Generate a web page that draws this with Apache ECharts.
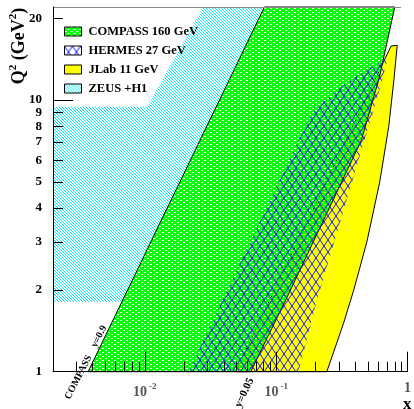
<!DOCTYPE html>
<html>
<head>
<meta charset="utf-8">
<script src="https://cdn.jsdelivr.net/npm/echarts@6/dist/echarts.min.js"></script>
<style>
html, body { margin: 0; padding: 0; background: #fff; }
#chart { width: 414px; height: 409px; }
</style>
</head>
<body>
<div id="chart"></div>
<script>
// axis ranges and ticks
var xRange = [0.002, 1];
var yRange = [1, 22];
var xLabels = [0.01, 0.1, 1];
var xMinorTicks = [0.003, 0.004, 0.005, 0.006, 0.007, 0.008, 0.009,
  0.02, 0.03, 0.04, 0.05, 0.06, 0.07, 0.08, 0.09,
  0.2, 0.3, 0.4, 0.5, 0.6, 0.7, 0.8, 0.9];
var yLabels = [1, 2, 3, 4, 5, 6, 7, 8, 9, 10, 20];
var yMinorTicks = [2, 3, 4, 5, 6, 7, 8, 9, 20];
var yMajorTicks = [1, 10];

// kinematic regions, [x, Q2] vertices
var zeusRegion = [[0.002, 1.81], [0.002, 9.45], [0.0104, 9.45], [0.0279, 22],
  [0.0815, 22], [0.0067, 1.81]];
var compassRegion = [[0.0037, 1], [0.0815, 22], [0.80, 22], [0.61, 12.1],
  [0.445, 7.1], [0.121, 1.88], [0.064, 1]];
var jlabRegion = [[0.049, 1], [0.75, 15.8], [0.835, 15.9], [0.79, 12], [0.72, 8],
  [0.615, 5], [0.49, 3], [0.39, 2], [0.325, 1.5], [0.243, 1]];
var hermesRegion = [[0.0215, 1], [0.187, 9.0], [0.27, 10.6], [0.36, 11.8],
  [0.5, 13.0], [0.66, 14.0], [0.71, 14.3], [0.60, 10.5], [0.469, 7.1],
  [0.33, 4], [0.204, 1.83], [0.148, 1]];

var FONT = 'Liberation Serif';

function makePattern(w, h, draw) {
  var c = document.createElement('canvas');
  c.width = w; c.height = h;
  draw(c.getContext('2d'), w, h);
  return { image: c, repeat: 'repeat' };
}

var greenFill = makePattern(6, 4, function (ctx) {
  ctx.fillStyle = '#00ff00';
  ctx.fillRect(0, 0, 6, 4);
  ctx.clearRect(0, 0, 2, 1);
  ctx.clearRect(3, 2, 2, 1);
});
var cyanFill = makePattern(3, 3, function (ctx) {
  ctx.fillStyle = '#00e8f0';
  for (var i = 0; i < 3; i++) {
    ctx.fillRect(i, i, 1, 1);
  }
});
var blueFill = makePattern(8, 12, function (ctx) {
  ctx.strokeStyle = '#1414e6';
  ctx.lineWidth = 1;
  ctx.beginPath();
  ctx.moveTo(0, 0); ctx.lineTo(8, 12);
  ctx.moveTo(8, 0); ctx.lineTo(0, 12);
  ctx.stroke();
});

function regionSeries(name, pts, fill, stroke, z) {
  return {
    name: name,
    type: 'custom',
    coordinateSystem: 'cartesian2d',
    data: pts,
    z: z,
    silent: true,
    itemStyle: { color: fill, borderColor: '#000', borderWidth: 1 },
    renderItem: function (params, api) {
      if (params.dataIndex !== 0) return null;
      return {
        type: 'polygon',
        shape: { points: pts.map(function (p) { return api.coord(p); }) },
        style: { fill: fill, stroke: stroke || null, lineWidth: stroke ? 1 : 0 }
      };
    }
  };
}

var labelFont = { fontFamily: FONT, fontWeight: 'bold', color: '#000' };

var chart = echarts.init(document.getElementById('chart'));
chart.setOption({
  animation: false,
  grid: { left: 53, right: 2.3, top: 7, bottom: 37.3 },
  xAxis: [{
    type: 'log', min: xRange[0], max: xRange[1], z: 10,
    axisLine: { lineStyle: { color: '#000', width: 1 } },
    splitLine: { show: false },
    axisTick: { inside: true, length: 10, lineStyle: { color: '#000' },
      customValues: xMinorTicks },
    axisLabel: {
      customValues: xLabels, margin: 10,
      formatter: function (v) {
        if (v === 1) return '{b|1}';
        return '{b|10}{s|' + Math.round(Math.log10(v)) + '}';
      },
      rich: {
        b: { fontFamily: FONT, fontWeight: 'bold', fontSize: 14, verticalAlign: 'bottom' },
        s: { fontFamily: FONT, fontWeight: 'bold', fontSize: 9, verticalAlign: 'bottom',
          padding: [0, 0, 9, 2] }
      }
    }
  }, {
    type: 'log', min: xRange[0], max: xRange[1], position: 'bottom', z: 10,
    axisLine: { show: false },
    splitLine: { show: false },
    axisTick: { inside: true, length: 20, lineStyle: { color: '#000' },
      customValues: xLabels },
    axisLabel: { show: false }
  }],
  yAxis: [{
    type: 'log', min: yRange[0], max: yRange[1], z: 10,
    axisLine: { lineStyle: { color: '#000', width: 1 } },
    splitLine: { show: false },
    axisTick: { inside: true, length: 10, lineStyle: { color: '#000' },
      customValues: yMinorTicks },
    axisLabel: Object.assign({ customValues: yLabels, margin: 11, fontSize: 13 }, labelFont)
  }, {
    type: 'log', min: yRange[0], max: yRange[1], position: 'left', z: 10,
    axisLine: { show: false },
    splitLine: { show: false },
    axisTick: { inside: true, length: 20, lineStyle: { color: '#000' },
      customValues: yMajorTicks },
    axisLabel: { show: false }
  }],
  legend: {
    orient: 'vertical', left: 59, top: 20,
    itemWidth: 17, itemHeight: 9, itemGap: 6,
    icon: 'rect', selectedMode: false,
    data: ['COMPASS 160 GeV', 'HERMES 27 GeV', 'JLab 11 GeV', 'ZEUS +H1'],
    itemStyle: { borderColor: '#000', borderWidth: 1 },
    textStyle: { fontFamily: FONT, fontWeight: 'bold', fontSize: 12.5, color: '#000',
      padding: [0, 0, 0, 2] }
  },
  series: [
    regionSeries('ZEUS +H1', zeusRegion, cyanFill, null, 1),
    regionSeries('JLab 11 GeV', jlabRegion, '#ffff00', '#000', 2),
    regionSeries('COMPASS 160 GeV', compassRegion, greenFill, '#000', 3),
    regionSeries('HERMES 27 GeV', hermesRegion, blueFill, null, 4)
  ],
  graphic: [
    { type: 'line', z: 10, shape: { x1: 53, y1: 7.5, x2: 401, y2: 7.5 },
      style: { stroke: '#888', lineWidth: 1 } },
    { type: 'text', x: 18, y: 46, rotation: Math.PI / 2, z: 10,
      style: {
        text: '{a|Q}{s|2}{a| (GeV}{s|2}{a|)}',
        align: 'center', verticalAlign: 'middle',
        rich: {
          a: { fontFamily: FONT, fontWeight: 'bold', fontSize: 18, verticalAlign: 'bottom' },
          s: { fontFamily: FONT, fontWeight: 'bold', fontSize: 11, verticalAlign: 'bottom',
            padding: [0, 0, 9, 0] }
        }
      } },
    { type: 'text', x: 403, y: 396, z: 10,
      style: { text: 'x', fontFamily: FONT, fontWeight: 'bold', fontSize: 17, fill: '#000' } },
    { type: 'text', x: 72, y: 401, rotation: 63 * Math.PI / 180, z: 10,
      style: { text: 'COMPASS    y=0.9', fontFamily: FONT, fontWeight: 'bold', fontSize: 10,
        fill: '#000', align: 'left', verticalAlign: 'bottom' } },
    { type: 'text', x: 243, y: 409, rotation: 65 * Math.PI / 180, z: 10,
      style: { text: 'y=0.05', fontFamily: FONT, fontWeight: 'bold', fontSize: 11,
        fill: '#000', align: 'left', verticalAlign: 'bottom' } }
  ]
});
</script>
</body>
</html>
